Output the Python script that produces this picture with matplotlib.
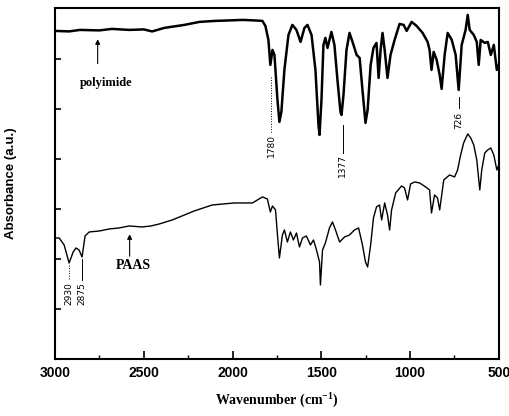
import numpy as np
import matplotlib
matplotlib.use('Agg')
import matplotlib.pyplot as plt
from matplotlib.ticker import MultipleLocator

# polyimide spectrum (upper trace)
pi_wn = [3000, 2921, 2860, 2752, 2680, 2582, 2500, 2453, 2385, 2272, 2187, 2100, 2018, 1940,
         1877, 1832, 1815, 1798, 1787,
         1775, 1764, 1747, 1736, 1725, 1708, 1685, 1663, 1640, 1617, 1595, 1578, 1555, 1533,
         1516, 1510, 1499, 1488, 1477, 1465, 1443, 1426, 1409, 1392, 1386, 1375, 1358, 1341,
         1324, 1301, 1284, 1268, 1251, 1239, 1222, 1206, 1189, 1177, 1166, 1155, 1143, 1127,
         1110, 1087, 1059, 1036, 1019, 991, 963, 929, 901, 890, 879, 867, 850, 833, 822, 805,
         788, 765, 743, 726, 709, 687, 675, 664, 641, 624, 613, 602, 579, 562, 545, 528, 511, 500]
pi_abs = [6.56, 6.55, 6.58, 6.57, 6.60, 6.58, 6.59, 6.55, 6.62, 6.68, 6.74, 6.76, 6.77, 6.78,
          6.77, 6.76, 6.66, 6.38, 5.88,
          6.18, 6.08, 5.18, 4.74, 4.94, 5.78, 6.48, 6.68, 6.58, 6.34, 6.62, 6.68, 6.48, 5.78,
          4.68, 4.48, 5.18, 6.28, 6.42, 6.22, 6.54, 6.28, 5.58, 4.94, 4.88, 5.28, 6.18, 6.52,
          6.34, 6.08, 6.02, 5.38, 4.72, 4.98, 5.88, 6.22, 6.32, 5.62, 6.18, 6.52, 6.18, 5.62,
          6.08, 6.38, 6.70, 6.68, 6.56, 6.74, 6.66, 6.52, 6.34, 6.18, 5.78, 6.14, 5.98, 5.68, 5.40, 6.08,
          6.52, 6.38, 6.08, 5.38, 6.28, 6.58, 6.88, 6.58, 6.48, 6.34, 5.88, 6.38, 6.32, 6.34, 6.08, 6.28, 5.78, 5.88]

# PAAS spectrum (lower trace)
paas_wn = [3000, 2977, 2949, 2921, 2898, 2882, 2865, 2848, 2831, 2808, 2750, 2695, 2640, 2582,
           2509, 2460, 2413,
           2340, 2216, 2114, 1990, 1888, 1860, 1832, 1804, 1787, 1775, 1758, 1747, 1736, 1719,
           1708, 1691, 1674, 1657, 1640, 1623, 1606, 1584, 1561, 1544, 1527, 1510, 1505, 1493,
           1477, 1454, 1437, 1420, 1397, 1369, 1341, 1313, 1290, 1268, 1251, 1239, 1222, 1206,
           1189, 1172, 1160, 1143, 1127, 1115, 1104, 1081, 1048, 1031, 1014, 997, 974, 946, 912,
           890, 879, 862, 845, 833, 810, 777, 749, 732, 715, 698, 675, 658, 641, 624, 607, 596,
           579, 562, 545, 528, 511, 500]
paas_abs = [2.42, 2.42, 2.28, 1.92, 2.14, 2.22, 2.18, 2.04, 2.46, 2.54, 2.56, 2.60, 2.62, 2.66,
            2.64, 2.66, 2.70,
            2.78, 2.96, 3.08, 3.12, 3.12, 3.18, 3.24, 3.20, 2.94, 3.06, 2.98, 2.48, 2.02, 2.48,
            2.58, 2.34, 2.54, 2.38, 2.52, 2.24, 2.42, 2.46, 2.28, 2.38, 2.18, 1.94, 1.48, 2.18,
            2.32, 2.62, 2.74, 2.58, 2.34, 2.44, 2.48, 2.58, 2.62, 2.28, 1.94, 1.84, 2.28, 2.82,
            3.04, 3.08, 2.78, 3.12, 2.88, 2.58, 2.98, 3.32, 3.46, 3.42, 3.18, 3.50, 3.54, 3.52, 3.44,
            3.38, 2.92, 3.28, 3.22, 2.98, 3.58, 3.68, 3.64, 3.78, 4.08, 4.32, 4.50, 4.42, 4.28, 3.98, 3.38, 3.78,
            4.12, 4.18, 4.22, 4.08, 3.78, 3.88]

# peak marks: label, x, line from y0 to y1, text centre y
peak_labels = ['1780', '1377', '726', '2930', '2875']
peak_x = [1783, 1380, 726, 2921, 2850]
peak_y0 = [5.64, 4.68, 5.24, 1.88, 2.00]
peak_y1 = [4.52, 4.12, 5.02, 1.58, 1.58]
peak_text_y = [4.26, 3.86, 4.76, 1.30, 1.30]
peak_style = [':', '-', '-', ':', '-']

fig = plt.figure(figsize=(5.10, 4.16), dpi=100)
ax = fig.add_axes([0.108, 0.137, 0.870, 0.844])

ax.plot(pi_wn, pi_abs, color='black', lw=1.8)
ax.plot(paas_wn, paas_abs, color='black', lw=1.0)

for lab, x, y0, y1, ty, ls in zip(peak_labels, peak_x, peak_y0, peak_y1, peak_text_y, peak_style):
    ax.plot([x, x], [y0, y1], color='black', lw=0.7, ls=ls)
    ax.text(x, ty, lab, rotation=90, ha='center', va='center', fontsize=6.5,
            family='DejaVu Sans')

# sample names with arrows
ax.annotate('', xy=(2760, 6.45), xytext=(2760, 5.85),
            arrowprops=dict(arrowstyle='-|>', color='black', lw=0.8, mutation_scale=7))
ax.text(2710, 5.52, 'polyimide', ha='center', va='center', fontsize=9,
        family='Liberation Serif', fontweight='bold')
ax.annotate('', xy=(2580, 2.55), xytext=(2580, 2.0),
            arrowprops=dict(arrowstyle='-|>', color='black', lw=0.8, mutation_scale=7))
ax.text(2560, 1.86, 'PAAS', ha='center', va='center', fontsize=10,
        family='Liberation Serif', fontweight='bold')

ax.set_xlim(3000, 500)
ax.set_ylim(0, 7.02)
ax.xaxis.set_major_locator(MultipleLocator(500))
ax.xaxis.set_minor_locator(MultipleLocator(250))
ax.set_yticks([1, 2, 3, 4, 5, 6])
ax.set_yticklabels([])
ax.tick_params(axis='x', which='major', direction='in', length=6, width=1.2, top=False,
               labelsize=10, pad=5)
ax.tick_params(axis='x', which='minor', direction='in', length=3, width=1.0, top=False)
ax.tick_params(axis='y', direction='in', length=4, width=1.2, right=False)
for lbl in ax.get_xticklabels():
    lbl.set_fontweight('bold')
    lbl.set_family('Liberation Sans')
for s in ax.spines.values():
    s.set_linewidth(1.5)

ax.set_xlabel('Wavenumber (cm$^{\\mathregular{-1}}$)', family='Liberation Serif',
              fontweight='bold', fontsize=10, labelpad=7)
ax.set_ylabel('Absorbance (a.u.)', family='Liberation Sans', fontweight='bold',
              fontsize=9.5, labelpad=24)

fig.savefig('out.png', dpi=100)
